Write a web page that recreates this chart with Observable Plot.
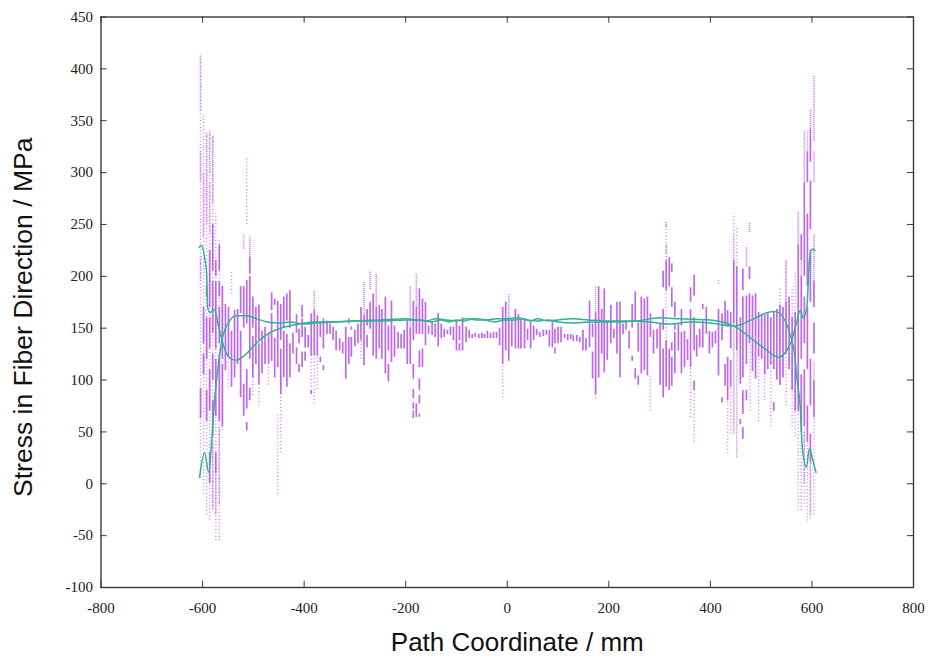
<!DOCTYPE html>
<html>
<head>
<meta charset="utf-8">
<style>html,body{margin:0;padding:0;background:#fff}svg{display:block}</style>
<script src="https://cdn.jsdelivr.net/npm/d3@7"></script>
<script src="https://cdn.jsdelivr.net/npm/@observablehq/plot@0.6"></script>
</head>
<body>
<script>
const xTicks = [-800,-600,-400,-200,0,200,400,600,800];
const yTicks = [-100,-50,0,50,100,150,200,250,300,350,400,450];

// [path coordinate, low stress, high stress]
const solidLeftEdge = [
[-604,63,92],[-598,105,125],[-598,135,170],[-592,120,160],[-592,60,90],[-592,180,190],
[-586,130,160],[-586,170,225],[-586,0,30],[-586,70,110],[-580,145,195],[-580,205,250],[-580,45,80],[-580,100,125],
[-574,65,120],[-574,130,195],[-574,200,215],[-574,10,30],[-567,60,125],[-567,135,170],[-567,180,195],[-567,205,230],
[-561,55,115],[-561,120,190],[-555,109,173],[-549,122,170],[-543,93,147],[-537,102,167],[-531,115,168],
[-525,83,147],[-525,164,190],[-519,65,96],[-519,150,190],[-513,51,59],[-513,72,110],[-513,154,196],
[-507,80,92],[-507,120,200],[-507,202,218],[-501,102,142],[-501,150,180],[-495,115,170],[-489,96,135],[-489,138,172],
[-483,106,147],[-477,115,151],[-470,115,144],[-464,118,164],[-464,167,184],[-458,102,140],[-458,172,178],
[-452,112,176],[-446,86,130],[-446,138,173],[-440,102,147],[-440,150,180],[-434,93,144],[-434,157,183],
[-428,102,135],[-428,150,186],[-422,125,145],[-415,115,131],[-415,145,163]
];
const solidLeft = [
[-410,135,149],[-410,107,115],[-404,160,172],[-404,141,159],[-404,112,127],[-398,131,151],[-398,118,127],[-392,131,143],
[-386,123,164],[-386,86,90],[-380,123,167],[-374,123,162],[-368,141,156],[-368,117,122],[-362,130,159],[-362,109,114],
[-355,144,157],[-349,144,154],[-343,138,151],[-337,128,147],[-330,128,140],[-324,125,136],[-318,101,151],
[-312,115,141],[-312,154,159],[-307,122,141],[-307,148,151],[-300,132,148],[-294,135,154],[-288,138,170],
[-282,114,162],[-276,131,143],[-276,152,168],[-270,149,175],[-264,123,183],[-258,120,170],[-252,130,172],
[-247,120,168],[-240,106,180],[-234,128,152],[-234,98,115],[-228,117,176],[-222,122,152],[-215,130,146],[-209,130,144],
[-203,130,148],[-197,115,157],[-191,115,150],[-185,138,176],[-185,101,115],[-185,82,91],[-185,72,78],[-185,63,70],
[-179,144,170],[-179,64,77],[-173,144,188],[-173,112,128],[-173,90,101],[-173,77,85],[-173,64,67],[-167,144,178],[-167,112,130],
[-161,133,175],[-155,144,152],[-148,143,156],[-142,141,154],[-136,132,164],[-130,140,154],[-124,141,149],[-118,144,148],
[-112,143,151],[-106,138,151],[-100,128,156],[-94,138,152],[-94,128,135],[-88,128,160],[-81,136,151],[-75,140,148],
[-69,140,144],[-63,141,145],[-56,140,144],[-50,140,145],[-45,140,144],[-39,140,147],[-33,140,145],[-27,140,146],[-21,140,146]
];
const solidRight = [
[-15,133,150],[-9,115,170],[-3,128,175],[3,118,160],[9,132,157],[16,130,168],[22,130,163],[27,130,159],[34,130,159],
[40,138,149],[46,130,156],[52,138,152],[58,143,149],[64,141,146],[71,142,148],[77,143,148],[83,132,148],[89,131,157],
[94,135,149],[94,125,131],[100,135,151],[106,136,151],[113,140,144],[119,138,144],[125,139,144],[130,137,143],[137,137,143],
[143,136,141],[149,128,148],[155,128,140],[162,131,176],[168,101,127],[168,141,154],[174,86,165],[180,102,190],[186,125,168],
[191,107,188],[197,119,157],[204,135,172],[210,140,149],[216,125,175],[222,102,175],[228,144,154],[234,148,157],[240,130,147],
[246,150,173],[246,118,123],[252,156,185],[252,101,111],[258,127,155],[258,95,104],[264,106,180],[270,109,178],[276,104,180],
[282,141,164],[288,125,148],[295,130,149],[301,95,154],[307,83,130],[307,148,168],[307,189,205],[313,93,138],[313,186,215],
[319,190,218],[319,90,130],[324,170,189],[324,128,136],[324,94,122],[324,204,212],[330,160,175],[330,148,154],[330,106,146],
[337,128,154],[343,152,168],[343,106,146],[349,112,147],[355,119,139],[361,175,189],[361,112,168],[368,181,201],[368,128,160],[368,90,99],
[373,122,143],[379,131,149],[385,168,173],[385,131,157],[392,144,170],[398,125,147],[404,131,146],[410,135,147],[416,104,168],
[423,138,164],[423,78,83],[429,152,176],[429,94,115],[434,151,167],[434,80,122],[440,93,119],[440,130,165]
];
const solidRightEdge = [
[446,154,215],[452,128,209],[459,96,160],[459,57,62],[464,186,207],[464,102,180],[464,67,90],[464,43,54],[471,115,181],[471,80,90],
[477,135,183],[477,197,209],[483,108,181],[489,101,183],[495,122,165],[501,120,163],[507,105,163],[513,110,165],[519,115,160],
[525,110,165],[525,70,78],[531,100,168],[537,95,172],[543,102,170],[549,125,175],[555,110,180],[561,90,160],[567,70,165],
[573,70,175],[573,175,230],[579,50,105],[579,120,200],[579,215,240],[585,55,110],[585,135,180],[585,200,290],[591,40,75],
[591,110,170],[591,190,260],[591,290,320],[597,20,48],[597,75,120],[597,175,225],[597,245,292],[597,310,342],[604,64,99],
[604,125,155],[604,170,195]
];

const denseBits = [
[-604,292,320],[-604,360,412],[-604,195,220],[-598,238,300],[-592,250,300],[-592,300,338],[-586,240,290],[-586,300,338],[-580,270,335],
[-580,-25,40],[-574,-30,10],[-567,-20,55],[-519,226,241],[-507,218,238],
[-380,167,186],[-282,162,194],[-270,187,205],[-258,170,202],[-191,150,190],[-179,170,202],[3,160,183],[174,165,190],
[313,221,231],[313,247,252],[446,48,154],[446,215,240],[452,25,128],[471,209,228],[477,242,252],[549,175,215],
[573,230,262],[579,200,215],[585,290,340],[591,320,340],[597,342,361],[604,195,240],[604,290,320],[604,330,393],[604,99,118],
[585,0,50],[597,-30,20]
];

const sparseColumns = [
[-604,5,414],[-598,-10,355],[-592,-30,338],[-586,-35,340],[-580,-25,335],[-574,-55,263],[-567,-55,237],[-561,51,192],
[-549,93,122],[-543,183,204],[-513,250,314],[-501,85,102],[-489,75,96],[-470,95,115],[-452,-10,68],[-446,30,110],[-386,93,123],[-380,77,123],[-374,91,123],
[-288,120,138],[-9,83,115],[174,82,110],[282,70,104],[313,110,252],[361,64,112],[368,40,90],[416,192,196],
[434,29,80],[440,48,93],[446,240,260],[452,209,246],[478,70,135],[495,60,122],[507,80,105],[519,55,115],[537,95,190],[549,75,215],
[561,55,190],[567,45,205],[573,-26,70],[579,-26,50],[585,-20,55],[591,-36,40],[597,-34,20],[604,-30,64]
];

const curveOneX = [-606,-602,-596,-592,-590,-585,-577,-568,-558,-548,-535,-519,-493,-473,-447,-420,-381,-342,-302,-250,-200,-170,-150,-130,-115,-100,-85,-65,-45,-25,-5,15,30,45,60,80,100,130,160,200,250,300,340,400,446,505,534,560,569,577,583,590,595,600,606];
const curveOneY = [228,230,218,202,170,165,168,151,132,122,119,123,136,144,150,153,156,156,157,157,158,158,156,158,156,158,157,159,158,156,158,158,159,157,159,157,158,159,158,157,157,160,159,158,152,131,122,138,154,167,160,170,215,226,225];
const curveTwoX = [-606,-596,-588,-581,-577,-571,-562,-548,-535,-512,-493,-473,-453,-427,-401,-375,-342,-302,-250,-200,-180,-160,-140,-120,-100,-80,-60,-40,-20,0,20,40,60,80,100,130,160,200,222,250,280,320,360,400,446,485,511,528,544,557,567,570,577,581,589,595,602,608];
const curveTwoY = [6,30,11,48,77,106,138,156,162,162,159,156,155,156,154,155,156,157,158,159,158,157,159,158,157,159,158,158,159,159,160,158,157,158,156,155,156,156,156,157,156,154,156,155,152,159,165,166,160,144,120,103,74,35,16,34,22,11];

const solid = [...solidLeftEdge, ...solidLeft, ...solidRight, ...solidRightEdge];
const curve = (xs, ys) => xs.map((x, i) => ({x, y: ys[i]}));
const purple = "#b44fe6", light = "#c67cee", green = "#2fb296", frameInk = "#3a3a3a";
const serif = "'Liberation Serif','Times New Roman',serif";
const sans = "'Liberation Sans',Helvetica,Arial,sans-serif";

const chart = Plot.plot({
  width: 928, height: 657,
  marginLeft: 100.5, marginRight: 15, marginTop: 16.5, marginBottom: 70,
  style: {background: "#fff"},
  x: {domain: [-800, 800], axis: null},
  y: {domain: [-100, 450], axis: null},
  marks: [
    Plot.ruleX(sparseColumns, {x: d => d[0], y1: d => d[1], y2: d => d[2], stroke: light, strokeWidth: 1.5, strokeDasharray: "1 2.4", strokeOpacity: 0.9}),
    Plot.ruleX(denseBits, {x: d => d[0], y1: d => d[1], y2: d => d[2], stroke: light, strokeWidth: 1.6, strokeDasharray: "1.2 0.8", strokeOpacity: 0.85}),
    Plot.ruleX(solid, {x: d => d[0], y1: d => d[1], y2: d => d[2], stroke: purple, strokeWidth: 1.7, strokeOpacity: 0.85}),
    Plot.line(curve(curveOneX, curveOneY), {x: "x", y: "y", stroke: green, strokeWidth: 1.5, curve: "monotone-x"}),
    Plot.line(curve(curveTwoX, curveTwoY), {x: "x", y: "y", stroke: green, strokeWidth: 1.5, curve: "monotone-x"}),
    Plot.ruleX(xTicks, {x: d => d, y1: -100, y2: -94, stroke: frameInk}),
    Plot.ruleX(xTicks, {x: d => d, y1: 444, y2: 450, stroke: frameInk}),
    Plot.ruleY(yTicks, {y: d => d, x1: -800, x2: -788, stroke: frameInk}),
    Plot.ruleY(yTicks, {y: d => d, x1: 788, x2: 800, stroke: frameInk}),
    Plot.frame({stroke: frameInk, strokeWidth: 1.4}),
    Plot.axisX(xTicks, {tickSize: 0, tickPadding: 15, tickFormat: d => String(d), label: null, fontSize: 15, fontFamily: serif, fill: "#222"}),
    Plot.axisY(yTicks, {tickSize: 0, tickPadding: 8, tickFormat: d => String(d), label: null, fontSize: 15, fontFamily: serif, fill: "#222"}),
    Plot.text(["Path Coordinate / mm"], {frameAnchor: "bottom", lineAnchor: "middle", dx: 10, dy: 55, fontSize: 26, fontFamily: sans, fill: "#111"}),
    Plot.text(["Stress in Fiber Direction / MPa"], {frameAnchor: "left", textAnchor: "middle", dx: -77, dy: 15, rotate: -90, fontSize: 26.5, fontFamily: sans, fill: "#111"})
  ]
});
document.body.append(chart);
</script>
</body>
</html>
